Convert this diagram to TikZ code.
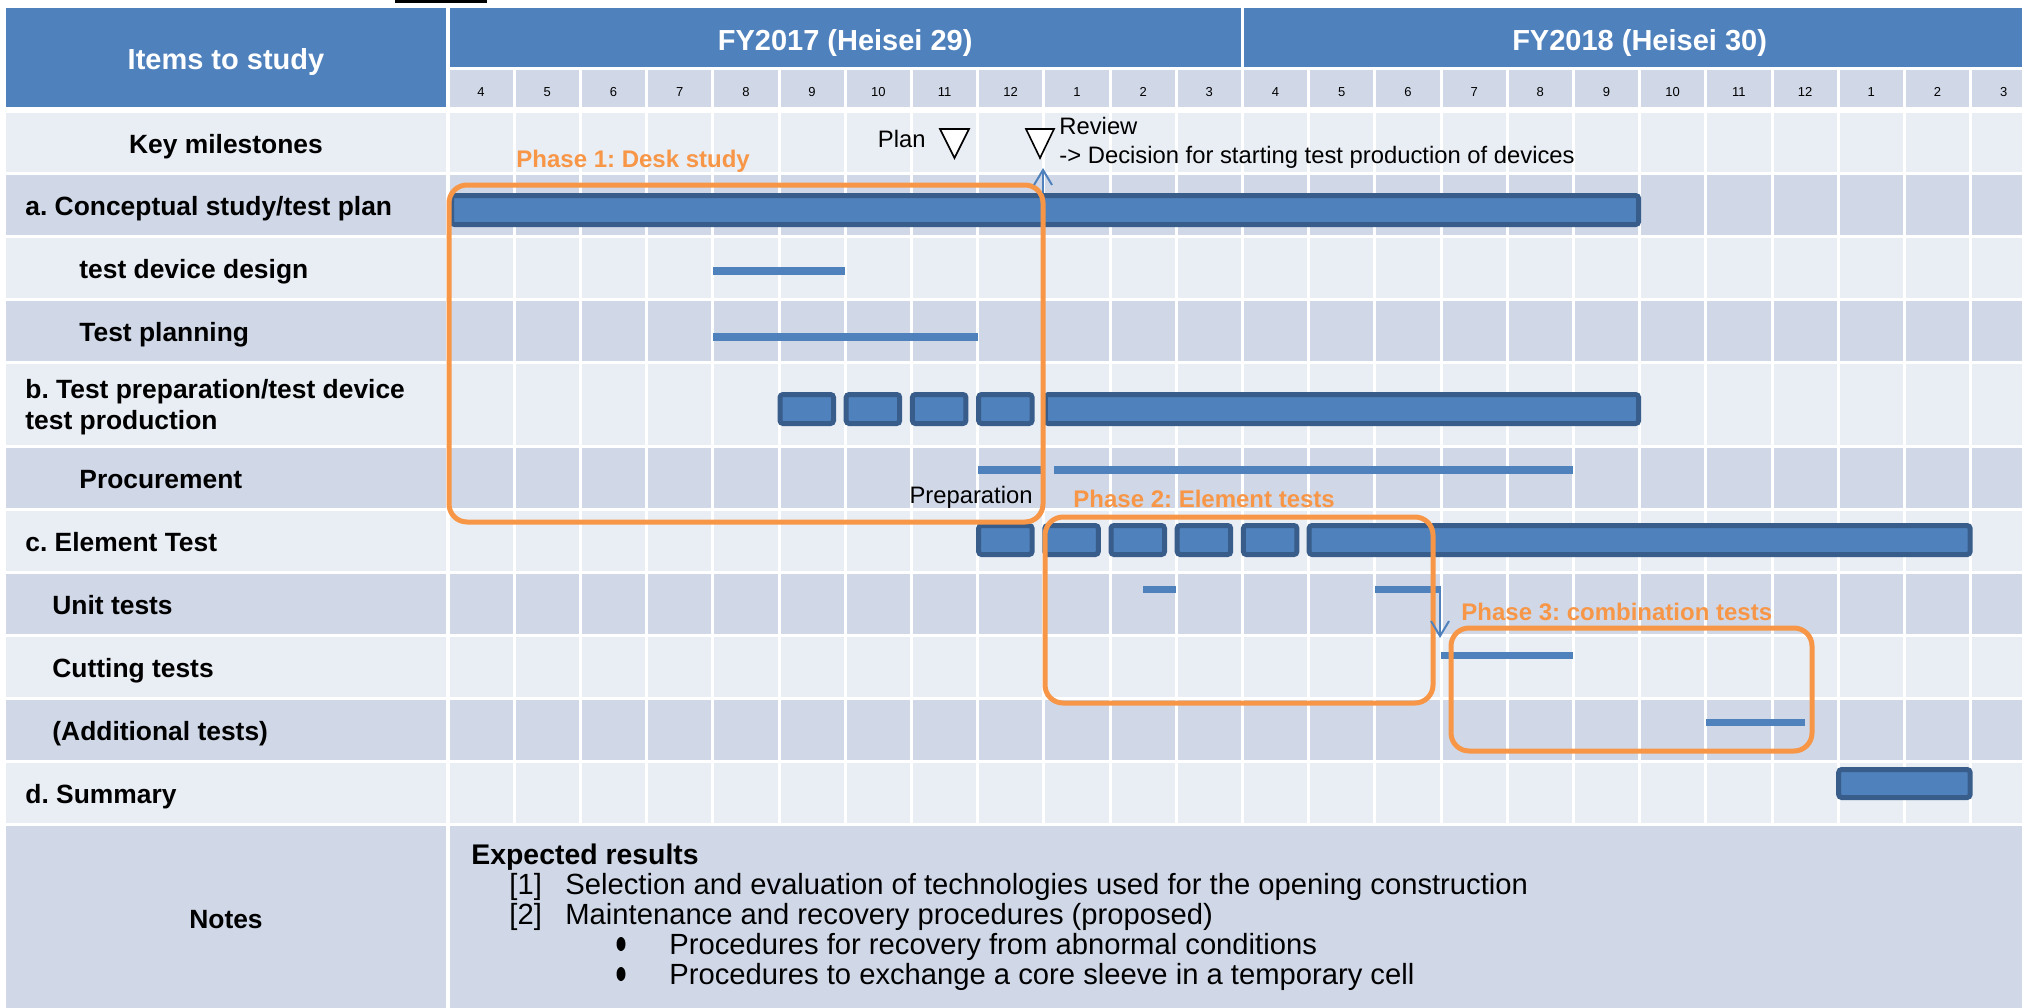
\documentclass[tikz,border=0pt]{standalone}
\usepackage{fontspec}
\setmainfont{Liberation Sans}
\frenchspacing
\usetikzlibrary{arrows.meta}
\definecolor{chead}{HTML}{4F81BD}
\definecolor{cdark}{HTML}{D0D8E8}
\definecolor{clight}{HTML}{E9EDF4}
\definecolor{cbar}{HTML}{4F81BD}
\definecolor{cbarline}{HTML}{385D8A}
\definecolor{cphase}{HTML}{F79646}
% left edge of month column #1 (0 = April FY2017)
\newcommand{\mcol}[1]{(448+66.2*(#1))}
\tikzset{
  rowlab/.style={font=\fontsize{13.2}{15.5}\selectfont\bfseries, anchor=base west, inner sep=0pt, align=left},
  head/.style={font=\fontsize{14.5}{17}\selectfont\bfseries, text=white, anchor=base, inner sep=0pt},
  month/.style={font=\fontsize{6.5}{8}\selectfont, anchor=base, inner sep=0pt},
  note/.style={font=\fontsize{11.9}{14}\selectfont, inner sep=0pt},
  res/.style={font=\fontsize{14.6}{16}\selectfont, anchor=base west, inner sep=0pt},
  phase/.style={font=\fontsize{12}{14}\selectfont\bfseries, text=cphase, anchor=base west, inner sep=0pt},
}

\begin{document}
\begin{tikzpicture}[
    x=0.5pt, y=-0.5pt,
    gbar/.style={draw=cbarline, fill=cbar, line width=2.5pt, rounded corners=1.5pt},
    tbar/.style={fill=cbar},
    box/.style={draw=cphase, line width=2.5pt, rounded corners=9pt},
    link/.style={draw=cbar, line width=1pt, -{Straight Barb[length=7.5pt, width=9pt]}},
    mstone/.style={draw=black, fill=white, line width=0.8pt},
  ]
  \useasboundingbox (0,0) rectangle (2022,1007);
  \clip (0,0) rectangle (2022,1007);

  % header
  \fill[black] (395,0) rectangle (487,2.5);
  \fill[chead] (6,8) rectangle (446,107);
  \fill[chead] ({\mcol{0}+1.5},8) rectangle ({\mcol{12}-1.5},67);
  \fill[chead] ({\mcol{12}+1.5},8) rectangle ({\mcol{24}},67);
  \foreach \k in {0,...,23}
    \fill[cdark] ({\mcol{\k}+1.5},70) rectangle ({\mcol{\k+1}-1.5},107);

  % table rows
  \foreach \t/\b/\c in {113/172/clight, 175/235/cdark, 238/298/clight, 301/361/cdark,
      364/445/clight, 448/508/cdark, 511/571/clight, 574/634/cdark, 637/697/clight,
      700/760/cdark, 763/823/clight}{
    \fill[\c] (6,\t) rectangle (446,\b);
    \foreach \k in {0,...,23}
      \fill[\c] ({\mcol{\k}+1.5},\t) rectangle ({\mcol{\k+1}-1.5},\b);
  }
  \fill[cdark] (6,826) rectangle (446,1010);
  \fill[cdark] ({\mcol{0}+1.5},826) rectangle (2030,1010);

  \node[head] (items) at (226,69) {Items to study};
  \node[head] (fy17) at ({\mcol{6}},50) {FY2017 (Heisei 29)};
  \node[head] (fy18) at ({\mcol{18}},50) {FY2018 (Heisei 30)};
  \foreach \m [count=\k from 0] in {4,5,6,7,8,9,10,11,12,1,2,3,4,5,6,7,8,9,10,11,12,1,2,3}
    \node[month] (m\k) at ({\mcol{\k+0.5}},96) {\m};

  % row labels
  \node[rowlab, anchor=base] (km) at (226,153) {Key milestones};
  \node[rowlab] (lab-a) at (25,215.5) {a. Conceptual study/test plan};
  \node[rowlab] (lab-design) at (79,278.5) {test device design};
  \node[rowlab] (lab-plan) at (79,341.5) {Test planning};
  \node[rowlab, anchor=west] (lab-b) at (25,407.6) {b. Test preparation/test device\\test production};
  \node[rowlab] (lab-proc) at (79,488.5) {Procurement};
  \node[rowlab] (lab-c) at (25,551.5) {c. Element Test};
  \node[rowlab] (lab-unit) at (52,614.5) {Unit tests};
  \node[rowlab] (lab-cut) at (52,677.5) {Cutting tests};
  \node[rowlab] (lab-add) at (52,740.5) {(Additional tests)};
  \node[rowlab] (lab-d) at (25,803.5) {d. Summary};
  \node[rowlab, anchor=base] (notes) at (226,928) {Notes};

  % gantt bars
  \draw[gbar] ({\mcol{0}+3.5},195.5) rectangle ({\mcol{18}-1},224.5);
  \fill[tbar] ({\mcol{4}},267) rectangle ({\mcol{6}},275);
  \fill[tbar] ({\mcol{4}},333) rectangle ({\mcol{8}},341);
  \foreach \k in {5,...,8}
    \draw[gbar] ({\mcol{\k}+1},394.5) rectangle ({\mcol{\k}+54.5},423.5);
  \draw[gbar] ({\mcol{9}+1.5},394.5) rectangle ({\mcol{18}-1},423.5);
  \fill[tbar] ({\mcol{8}},466) rectangle ({\mcol{9}-2},474);
  \fill[tbar] ({\mcol{9}+10},466) rectangle ({\mcol{17}},474);
  \foreach \k in {8,...,12}
    \draw[gbar] ({\mcol{\k}+1},525.5) rectangle ({\mcol{\k}+54.5},554.5);
  \draw[gbar] ({\mcol{13}+0.5},525.5) rectangle ({\mcol{23}-0.5},554.5);
  \fill[tbar] ({\mcol{10.5}},586) rectangle ({\mcol{11}},593);
  \fill[tbar] ({\mcol{14}},586) rectangle ({\mcol{15}},593);
  \fill[tbar] ({\mcol{15}},652) rectangle ({\mcol{17}},659);
  \fill[tbar] ({\mcol{19}},719) rectangle ({\mcol{20.5}},726);
  \draw[gbar] ({\mcol{21}+0.5},769.5) rectangle ({\mcol{23}-0.5},797.5);

  % phases
  \draw[box] (449,185) rectangle (1043,522);
  \draw[box] (1045,517) rectangle (1433,703);
  \draw[box] (1451,628) rectangle (1812,751);
  \node[phase] (ph1) at (516,167) {Phase 1: Desk study};
  \node[phase] (ph2) at (1073,507) {Phase 2: Element tests};
  \node[phase] (ph3) at (1461,620) {Phase 3: combination tests};

  % milestones
  \draw[mstone] (940,129) -- (969,129) -- (954.5,158) -- cycle;
  \draw[mstone] (1026,129) -- (1054,129) -- (1040,158) -- cycle;
  \node[note, anchor=base east] (plan) at (926,147) {Plan};
  \node[note, anchor=base west] (review) at (1059,134) {Review};
  \node[note, anchor=base west] (decision) at (1059,163) {-> Decision for starting test production of devices};
  \node[note, anchor=base east] (prep) at (1033,503) {Preparation};

  \coordinate (abar-top) at (1043,193);
  \coordinate (review-foot) at (1043,168);
  \draw[link] (abar-top) -- (review-foot);
  \coordinate (unit-end) at (1440,590);
  \coordinate (cut-start) at (1440,638);
  \draw[link] (unit-end) -- (cut-start);

  % expected results
  \node[res, font=\fontsize{14.2}{16}\selectfont\bfseries] (expected) at (471,864) {Expected results};
  \node[res] (r1-no) at (509,894) {[1]};
  \node[res] (r1) at (565,894) {Selection and evaluation of technologies used for the opening construction};
  \node[res] (r2-no) at (509,924) {[2]};
  \node[res] (r2) at (565,924) {Maintenance and recovery procedures (proposed)};
  \fill (621,944) ellipse [x radius=4.5, y radius=7];
  \fill (621,974) ellipse [x radius=4.5, y radius=7];
  \node[res] (r2a) at (669,954) {Procedures for recovery from abnormal conditions};
  \node[res] (r2b) at (669,984) {Procedures to exchange a core sleeve in a temporary cell};
\end{tikzpicture}
\end{document}
